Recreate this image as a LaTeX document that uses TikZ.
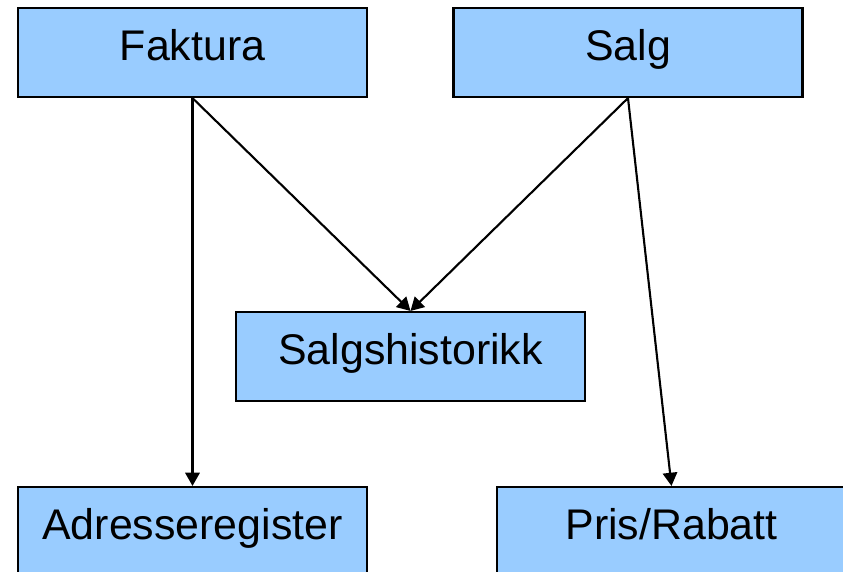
\documentclass[tikz,border=0pt]{standalone}
\usepackage{fontspec}
\setmainfont{Liberation Sans}
\usepackage{tikz}
\usetikzlibrary{arrows.meta}
\definecolor{boxblue}{HTML}{99CCFF}

\begin{document}
\begin{tikzpicture}[x=0.025cm, y=-0.025cm,
	modul/.style={draw=black, line width=1.5pt, fill=boxblue, inner sep=0pt,
		minimum width=8.725cm, minimum height=2.225cm,
		text height=0.75cm, text depth=0.36cm,
		font=\fontsize{30.5}{36}\selectfont},
	kall/.style={draw=black, line width=1.5pt, -{Triangle[length=0.33cm, width=0.36cm]}}]
	\useasboundingbox (0,0) rectangle (843,572);
	\clip (0,0) rectangle (843,572);

	\node[modul] (faktura) at (192.5,52.5) {Faktura};
	\node[modul] (salg) at (628.0,52.5) {Salg};
	\node[modul] (historikk) at (410.5,356.5) {Salgshistorikk};
	\node[modul] (adresse) at (192.5,531.5) {Adresseregister};
	\node[modul] (pris) at (671.5,531.5) {Pris/Rabatt};

	\draw[kall] (faktura.south) -- (adresse.north);
	\draw[kall] (faktura.south) -- (historikk.north);
	\draw[kall] (salg.south) -- (historikk.north);
	\draw[kall] (salg.south) -- (pris.north);
\end{tikzpicture}
\end{document}
